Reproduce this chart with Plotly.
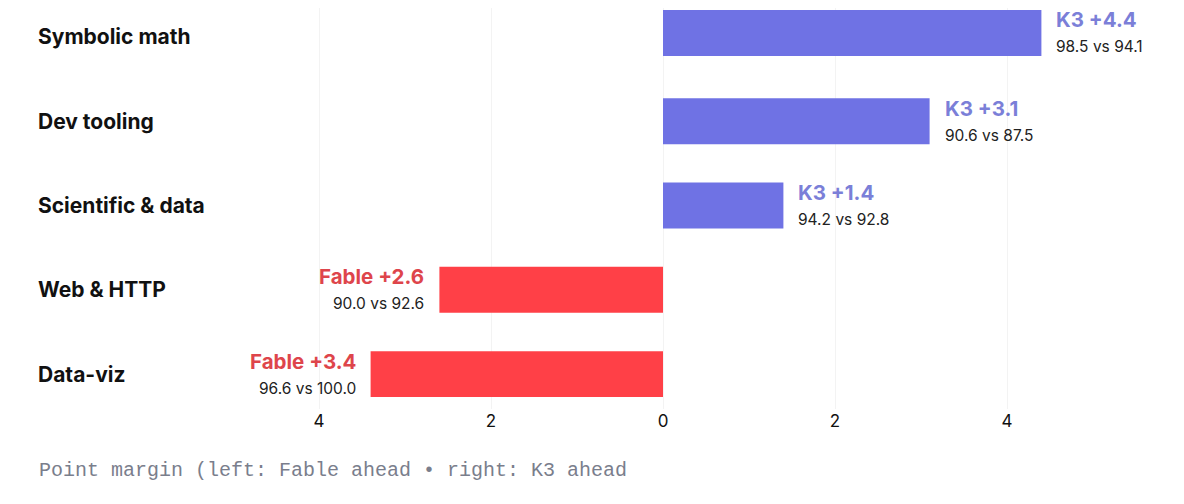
import plotly.graph_objects as go

categories = ["Symbolic math", "Dev tooling", "Scientific & data", "Web & HTTP", "Data-viz"]
k3_scores = [98.5, 90.6, 94.2, 90.0, 96.6]
fable_scores = [94.1, 87.5, 92.8, 92.6, 100.0]
tick_values = [-4, -2, 0, 2, 4]
tick_labels = ["4", "2", "0", "2", "4"]
caption = "Point margin (left: Fable ahead \u2022 right: K3 ahead"

margins = [round(k - f, 1) for k, f in zip(k3_scores, fable_scores)]

K3_BAR = "#6f72e4"
K3_TXT = "#7b7fd8"
FB_BAR = "#ff4047"
FB_TXT = "#de454b"

W, H = 1184, 504
PLOT_BOTTOM = 401
ZERO_PX = 655
UNIT_PX = 86
ROW_PX = 84.5
BAR_W = 0.545
# per-row vertical nudge of the bar group (pixels, up positive)
row_nudge = [4, 0, 0, 0, 0]

colors = [K3_BAR if m > 0 else FB_BAR for m in margins]
offsets = [-BAR_W / 2 - n / ROW_PX for n in row_nudge]

fig = go.Figure()
fig.add_trace(go.Bar(
    y=categories, x=margins, orientation="h",
    marker=dict(color=colors, line=dict(width=0)),
    width=BAR_W, offset=offsets, hoverinfo="skip",
))

ann = []
for cat, m, k, f, n in zip(categories, margins, k3_scores, fable_scores, row_nudge):
    ann.append(dict(
        x=28 / W, xref="paper", y=cat, yref="y", xanchor="left", yanchor="middle",
        text=f"<b>{cat}</b>", showarrow=False,
        font=dict(family="Inter", size=21, color="#111111"),
    ))
    if m > 0:
        head = f"K3 +{m:.1f}"
        col = K3_TXT
        xa = "left"
        xs = 13
    else:
        head = f"Fable +{abs(m):.1f}"
        col = FB_TXT
        xa = "right"
        xs = -13
    ann.append(dict(
        x=m, xref="x", y=cat, yref="y", xanchor=xa, yanchor="middle",
        xshift=xs, yshift=13 + n, text=f"<b>{head}</b>", showarrow=False,
        font=dict(family="Inter", size=20.5, color=col),
    ))
    ann.append(dict(
        x=m, xref="x", y=cat, yref="y", xanchor=xa, yanchor="middle",
        xshift=xs, yshift=-14 + n, text=f"{k:.1f} vs {f:.1f}", showarrow=False,
        font=dict(family="Inter", size=15.5, color="#222222"),
    ))

ann.append(dict(
    x=29 / W, xref="paper", y=-(462 - PLOT_BOTTOM) / PLOT_BOTTOM, yref="paper",
    xanchor="left", yanchor="middle", text=caption, showarrow=False,
    font=dict(family="Liberation Mono", size=20, color="#7a7e8c"),
))

fig.update_layout(
    width=W, height=H,
    margin=dict(l=0, r=0, t=0, b=H - PLOT_BOTTOM),
    paper_bgcolor="white", plot_bgcolor="white",
    showlegend=False,
    annotations=ann,
    xaxis=dict(
        range=[-ZERO_PX / UNIT_PX, (W - ZERO_PX) / UNIT_PX],
        tickvals=tick_values, ticktext=tick_labels,
        showgrid=True, gridcolor="#f3f3f3", gridwidth=1,
        zeroline=False, showline=False, ticks="",
        tickfont=dict(family="Inter", size=17, color="#111111"),
        fixedrange=True,
    ),
    yaxis=dict(
        type="category", categoryorder="array", categoryarray=categories,
        range=[4.414, -0.343],
        showticklabels=False, showgrid=False, zeroline=False, showline=False,
        fixedrange=True,
    ),
)

fig.write_html("out.html")
